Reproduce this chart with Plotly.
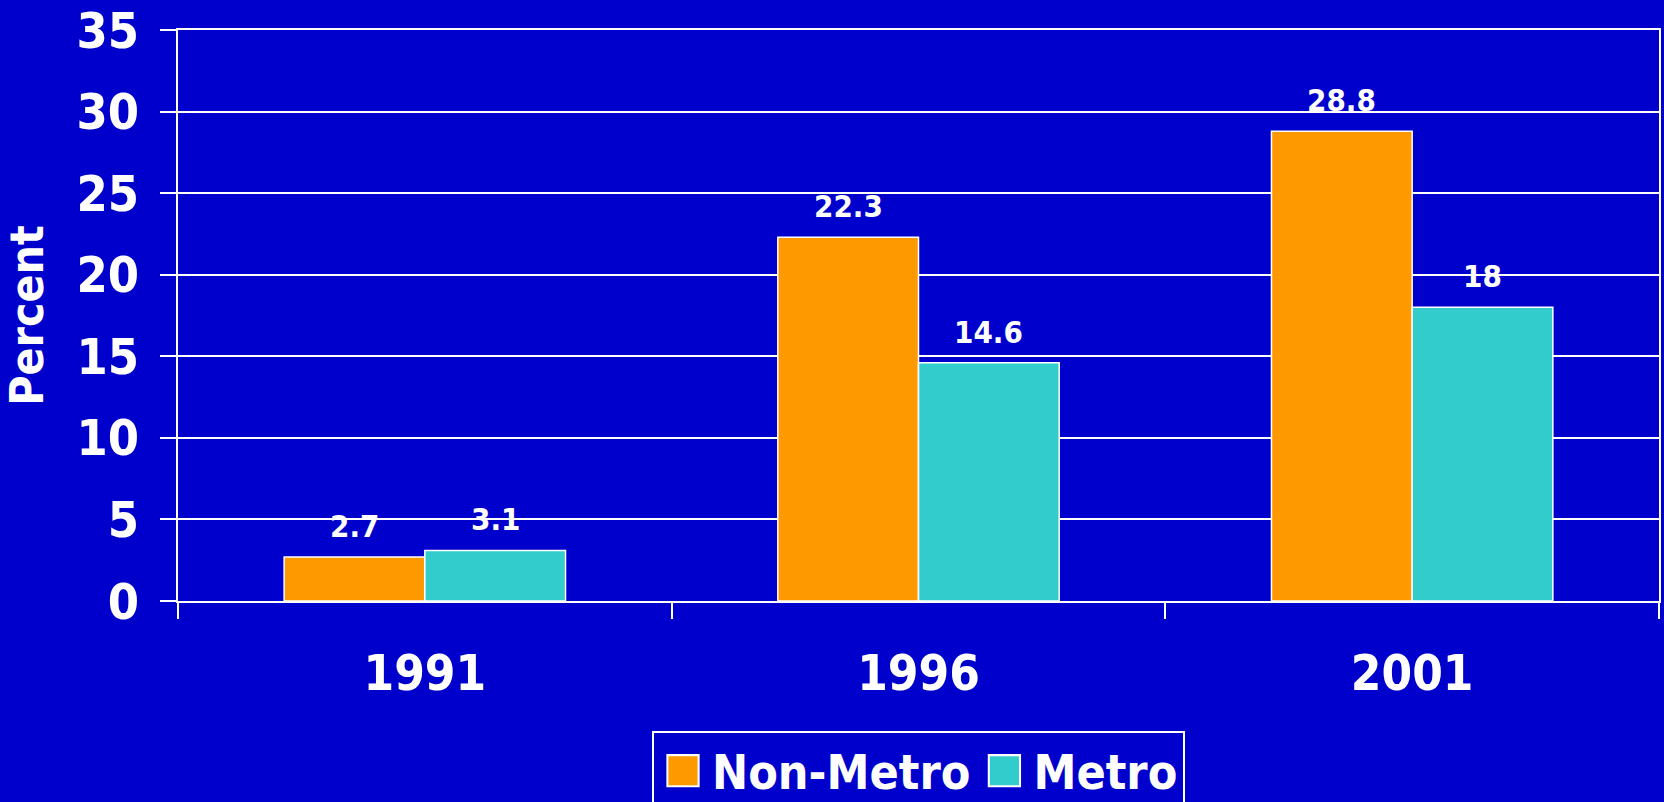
import plotly.graph_objects as go

years = ["1991", "1996", "2001"]
non_metro = [2.7, 22.3, 28.8]
metro = [3.1, 14.6, 18]

BG = "#0000CC"
FONT = "DejaVu Sans Condensed, DejaVu Sans"

fig = go.Figure()
fig.add_trace(go.Bar(
    x=years, y=non_metro, name="Non-Metro",
    marker=dict(color="#FF9900", line=dict(color="white", width=1.5)),
))
fig.add_trace(go.Bar(
    x=years, y=metro, name="Metro",
    marker=dict(color="#33CCCC", line=dict(color="white", width=1.5)),
))

# value labels above the bars
for i, yr in enumerate(years):
    for off, vals in ((-0.5, non_metro), (0.5, metro)):
        fig.add_annotation(
            x=i + off * 0.285, y=vals[i], xref="x", yref="y",
            text=f"<b>{vals[i]:g}</b>", showarrow=False,
            yanchor="bottom", yshift=11,
            font=dict(family=FONT, size=31, color="white"),
        )

fig.update_layout(
    width=1664, height=802,
    paper_bgcolor=BG, plot_bgcolor=BG,
    margin=dict(l=178, r=5, t=30, b=201, autoexpand=False),
    barmode="group", bargap=0.43, bargroupgap=0,
    font=dict(family=FONT, color="white"),
    showlegend=True,
    legend=dict(
        orientation="h", x=0.5, xanchor="center", y=-0.2277, yanchor="top",
        bgcolor=BG, bordercolor="white", borderwidth=2, itemwidth=48,
        font=dict(family=FONT, size=48, color="white", weight="bold"),
        traceorder="normal",
    ),
    xaxis=dict(
        type="category", tickson="boundaries", ticks="outside", ticklen=16,
        tickcolor="white", tickwidth=2, showline=True, mirror=True,
        linecolor="white", linewidth=2, showgrid=False, ticklabelstandoff=28,
        tickfont=dict(family=FONT, size=49, color="white", weight="bold"),
    ),
    yaxis=dict(
        range=[0, 35], dtick=5, ticks="outside", ticklen=16, tickcolor="white",
        tickwidth=2, showline=True, mirror=True, linecolor="white", linewidth=2,
        gridcolor="white", gridwidth=2, zeroline=False, ticklabelstandoff=11,
        tickfont=dict(family=FONT, size=50, color="white", weight="bold"),
        title=dict(text="Percent", standoff=22,
                   font=dict(family=FONT, size=46, color="white", weight="bold")),
    ),
)

# page without body margin, larger legend squares like the original
post = """
document.body.style.margin = '0';
document.body.style.overflow = 'hidden';
var gd = document.getElementById('{plot_id}');
function bigSwatches() {
  document.querySelectorAll('.legendpoints path').forEach(function (p) {
    if (p.dataset.t0 === undefined) { p.dataset.t0 = p.getAttribute('transform') || ''; }
    p.setAttribute('transform', p.dataset.t0 + ' scale(2.6)');
    p.style.strokeWidth = '0.8px';
  });
}
bigSwatches();
gd.on('plotly_afterplot', bigSwatches);
"""

fig.write_html("out.html", post_script=post, config={"displayModeBar": False})
